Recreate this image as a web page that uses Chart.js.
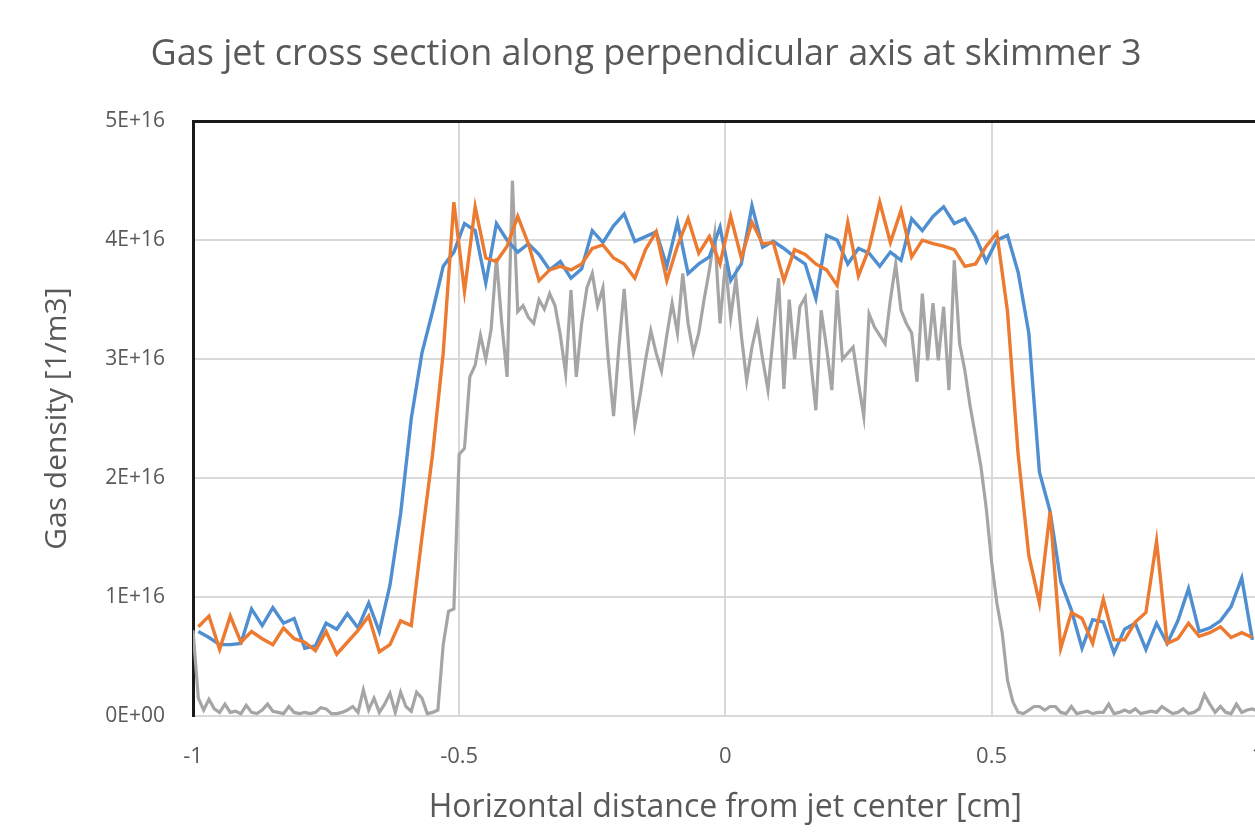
<!DOCTYPE html>
<html>
<head>
<meta charset="utf-8">
<script src="https://cdn.jsdelivr.net/npm/chart.js@4.4.1/dist/chart.umd.min.js"></script>
<style>
  html, body { margin: 0; padding: 0; background: #ffffff; overflow: hidden; }
  #wrap { width: 1292px; height: 837px; }
</style>
</head>
<body>
<div id="wrap"><canvas id="c" width="1292" height="837"></canvas></div>
<script>
// ---- data (gas density in units of 1E16 1/m3) ----
const chartTitle = 'Gas jet cross section along perpendicular axis at skimmer 3';
const xAxisTitle = 'Horizontal distance from jet center [cm]';
const yAxisTitle = 'Gas density [1/m3]';
const xTickValues = [-1, -0.5, 0, 0.5, 1];
const xTickLabels = ['-1', '-0.5', '0', '0.5', '1'];
const yTickValues = [0, 1, 2, 3, 4, 5];
const yTickLabels = ['0E+00', '1E+16', '2E+16', '3E+16', '4E+16', '5E+16'];

// coarse sampling grid (blue / orange): first position and spacing [cm]
const coarseStart = -0.99, coarseStep = 0.02;
// fine sampling grid (gray)
const fineStart = -1.0, fineStep = 0.01;

const blueSeries = [
  0.71, 0.66, 0.60, 0.60, 0.61, 0.90, 0.76, 0.91, 0.78, 0.82,
  0.57, 0.59, 0.78, 0.73, 0.86, 0.74, 0.95, 0.71, 1.10, 1.70,
  2.50, 3.05, 3.40, 3.78, 3.90, 4.14, 4.08, 3.64, 4.14, 4.00,
  3.90, 3.97, 3.88, 3.75, 3.82, 3.68, 3.76, 4.08, 3.98, 4.12,
  4.22, 3.99, 4.03, 4.07, 3.78, 4.15, 3.72, 3.80, 3.86, 4.11,
  3.66, 3.80, 4.29, 3.94, 3.99, 3.93, 3.86, 3.80, 3.51, 4.04,
  4.00, 3.80, 3.93, 3.89, 3.78, 3.90, 3.83, 4.18, 4.08, 4.20,
  4.28, 4.14, 4.18, 4.03, 3.82, 4.00, 4.04, 3.73, 3.22, 2.05,
  1.72, 1.13, 0.89, 0.57, 0.81, 0.79, 0.53, 0.73, 0.78, 0.56,
  0.78, 0.61, 0.80, 1.07, 0.71, 0.74, 0.80, 0.92, 1.16, 0.64
];

const orangeSeries = [
  0.75, 0.84, 0.56, 0.84, 0.62, 0.71, 0.65, 0.60, 0.74, 0.65,
  0.62, 0.55, 0.71, 0.52, 0.62, 0.72, 0.84, 0.54, 0.60, 0.80,
  0.76, 1.50, 2.20, 3.05, 4.32, 3.57, 4.28, 3.85, 3.82, 3.95,
  4.20, 3.97, 3.66, 3.75, 3.78, 3.75, 3.80, 3.93, 3.96, 3.85,
  3.80, 3.68, 3.92, 4.07, 3.66, 3.95, 4.18, 3.89, 4.03, 3.80,
  4.20, 3.85, 4.15, 3.97, 3.98, 3.66, 3.92, 3.88, 3.80, 3.75,
  3.62, 4.15, 3.70, 3.93, 4.32, 3.98, 4.25, 3.86, 4.00, 3.97,
  3.95, 3.92, 3.78, 3.80, 3.95, 4.06, 3.40, 2.20, 1.35, 0.95,
  1.72, 0.57, 0.87, 0.82, 0.61, 0.98, 0.64, 0.64, 0.79, 0.87,
  1.47, 0.61, 0.65, 0.78, 0.67, 0.70, 0.75, 0.66, 0.70, 0.66
];

const graySeries = [
  0.72, 0.15, 0.05, 0.14, 0.06, 0.03, 0.10, 0.03, 0.04, 0.02,
  0.09, 0.03, 0.02, 0.05, 0.10, 0.04, 0.03, 0.02, 0.08, 0.03,
  0.02, 0.03, 0.02, 0.03, 0.07, 0.06, 0.02, 0.02, 0.03, 0.05,
  0.08, 0.03, 0.22, 0.05, 0.15, 0.03, 0.10, 0.19, 0.03, 0.20,
  0.08, 0.04, 0.20, 0.15, 0.02, 0.03, 0.05, 0.60, 0.88, 0.90,
  2.20, 2.25, 2.85, 2.95, 3.20, 3.00, 3.25, 3.85, 3.30, 2.85,
  4.50, 3.40, 3.45, 3.35, 3.30, 3.50, 3.42, 3.55, 3.45, 3.20,
  2.88, 3.58, 2.85, 3.30, 3.60, 3.72, 3.45, 3.60, 3.00, 2.52,
  3.10, 3.59, 3.00, 2.45, 2.70, 2.99, 3.24, 3.05, 2.90, 3.20,
  3.47, 3.22, 3.72, 3.30, 3.05, 3.22, 3.50, 3.75, 4.05, 3.30,
  3.80, 3.35, 3.68, 3.20, 2.82, 3.10, 3.30, 3.00, 2.74, 3.20,
  3.68, 2.75, 3.50, 3.00, 3.44, 3.52, 3.00, 2.57, 3.41, 3.10,
  2.74, 3.58, 3.00, 3.05, 3.10, 2.80, 2.52, 3.38, 3.27, 3.20,
  3.13, 3.50, 3.80, 3.41, 3.30, 3.22, 2.81, 3.55, 2.99, 3.47,
  2.99, 3.44, 2.74, 3.83, 3.13, 2.90, 2.60, 2.35, 2.10, 1.75,
  1.30, 0.95, 0.70, 0.30, 0.12, 0.03, 0.02, 0.05, 0.08, 0.08,
  0.05, 0.08, 0.08, 0.03, 0.02, 0.08, 0.02, 0.03, 0.04, 0.02,
  0.03, 0.03, 0.10, 0.02, 0.03, 0.05, 0.03, 0.06, 0.02, 0.03,
  0.04, 0.03, 0.08, 0.05, 0.02, 0.03, 0.06, 0.02, 0.03, 0.06,
  0.18, 0.10, 0.03, 0.08, 0.03, 0.02, 0.10, 0.03, 0.05, 0.06,
  0.04
];

// ---- build point lists ----
function toPoints(values, start, step) {
  return values.map((v, i) => ({ x: +(start + step * i).toFixed(3), y: v }));
}

const FONT = "'Open Sans', 'Noto Sans', sans-serif";
const TEXT = '#595959';
const GRID = '#d9d9d9';

const hideEdge = (edgeValues) => (ctx) =>
  (ctx.tick && edgeValues.includes(ctx.tick.value)) ? 'rgba(0,0,0,0)' : GRID;

new Chart(document.getElementById('c'), {
  type: 'line',
  data: {
    datasets: [
      { label: 'Series 1', data: toPoints(blueSeries, coarseStart, coarseStep),
        borderColor: '#4f8fd1', borderWidth: 3.4, pointRadius: 0, tension: 0, order: 2 },
      { label: 'Series 2', data: toPoints(orangeSeries, coarseStart, coarseStep),
        borderColor: '#ec7a30', borderWidth: 3.4, pointRadius: 0, tension: 0, order: 1 },
      { label: 'Series 3', data: toPoints(graySeries, fineStart, fineStep),
        borderColor: '#a5a5a5', borderWidth: 3.2, pointRadius: 0, tension: 0, order: 3 }
    ]
  },
  options: {
    responsive: false,
    animation: false,
    devicePixelRatio: 1,
    layout: { padding: { left: 0, right: 0, top: 0, bottom: 0 } },
    plugins: {
      legend: { display: false },
      tooltip: { enabled: false },
      title: {
        display: true,
        text: chartTitle,
        color: TEXT,
        font: { family: FONT, size: 36, weight: 'normal', lineHeight: 1.2 },
        padding: { top: 33, bottom: 45 }
      }
    },
    scales: {
      x: {
        type: 'linear', position: 'bottom', min: -1, max: 1,
        afterBuildTicks: (s) => { s.ticks = xTickValues.map(v => ({ value: v })); },
        afterFit: (s) => { s.height = 121; },
        ticks: {
          color: TEXT, padding: 28, maxRotation: 0, autoSkip: false,
          font: { family: FONT, size: 22 },
          callback: (v) => xTickLabels[xTickValues.indexOf(v)]
        },
        grid: { color: hideEdge([-1]), lineWidth: 2, drawTicks: false },
        border: { display: true, color: GRID, width: 2 },
        title: {
          display: true, text: xAxisTitle, color: TEXT,
          font: { family: FONT, size: 32, lineHeight: 1.2 },
          padding: { top: 0, bottom: 10 }
        }
      },
      xTop: {
        type: 'linear', position: 'top', min: -1, max: 1,
        afterFit: (s) => { s.height = 0; },
        ticks: { display: false },
        grid: { display: false },
        border: { display: true, color: '#1a1a1a', width: 3 }
      },
      y: {
        type: 'linear', position: 'left', min: 0, max: 5,
        afterBuildTicks: (s) => { s.ticks = yTickValues.map(v => ({ value: v })); },
        afterFit: (s) => { s.width = 193; },
        ticks: {
          color: TEXT, padding: 28,
          font: { family: FONT, size: 21 },
          callback: (v) => yTickLabels[yTickValues.indexOf(v)]
        },
        grid: { color: hideEdge([0, 5]), lineWidth: 2, drawTicks: false },
        border: { display: true, color: '#1a1a1a', width: 3 },
        title: {
          display: true, text: yAxisTitle, color: TEXT,
          font: { family: FONT, size: 30, lineHeight: 1.2 },
          padding: { top: 39, bottom: 0 }
        }
      },
      yRight: {
        type: 'linear', position: 'right', min: 0, max: 5,
        afterFit: (s) => { s.width = 34; },
        ticks: { display: false },
        grid: { display: false },
        border: { display: false }
      }
    }
  }
});
</script>
</body>
</html>
